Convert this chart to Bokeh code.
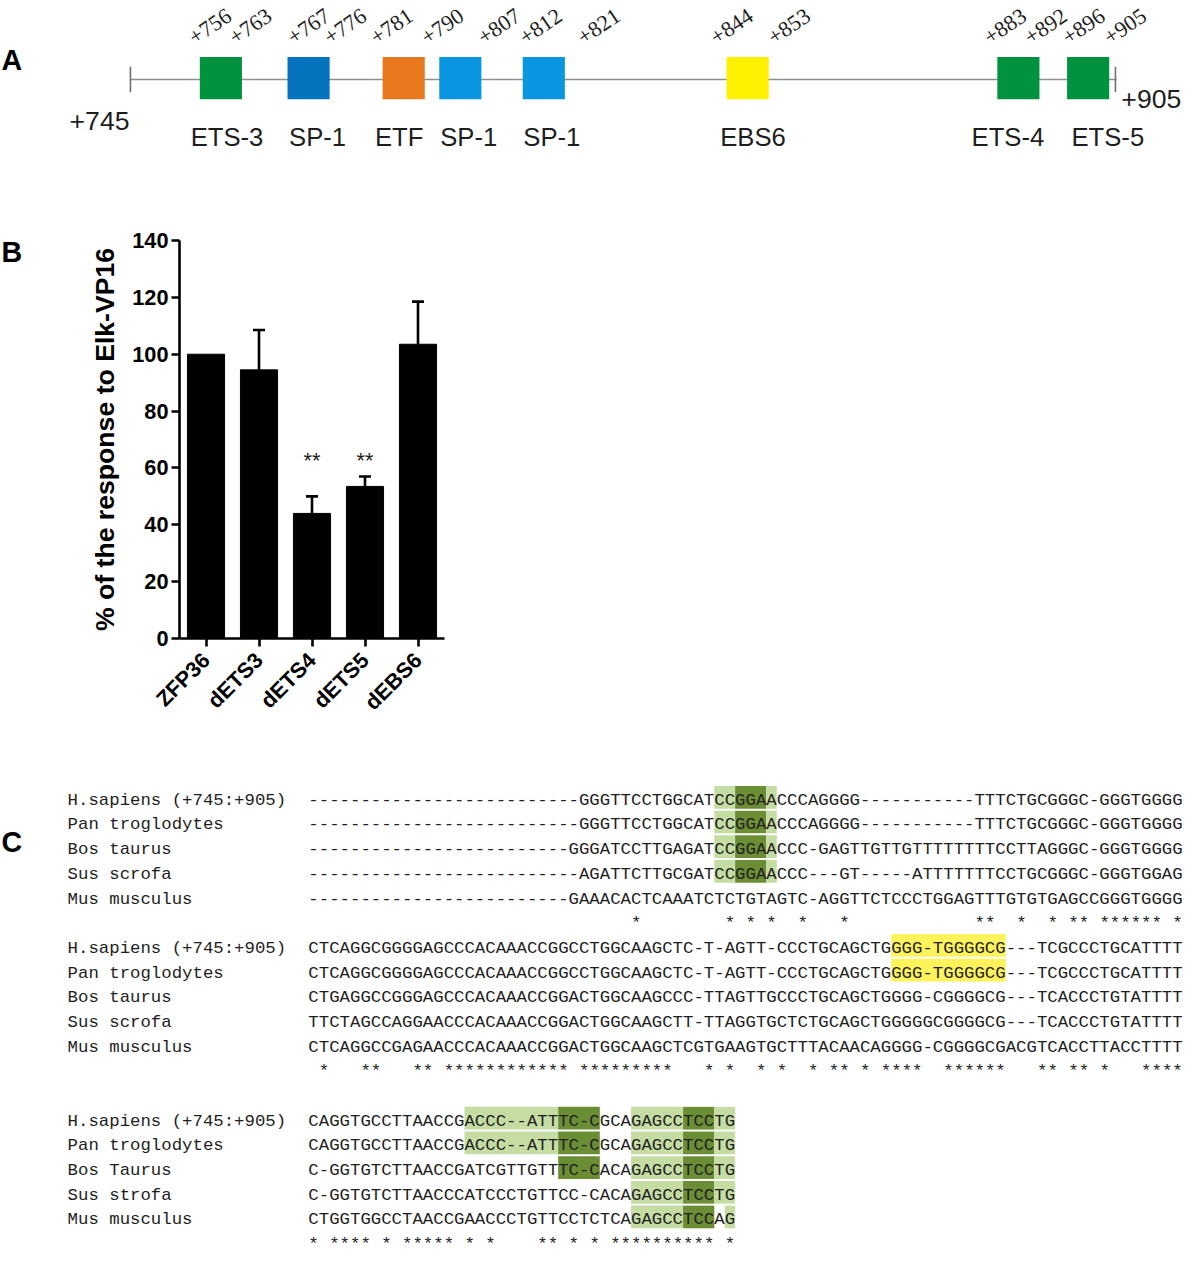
import math
from bokeh.plotting import figure
from bokeh.models import Range1d, FactorRange, ColumnDataSource, FixedTicker, Whisker, TeeHead
from bokeh.layouts import column, row
from bokeh.embed import file_html
from bokeh.resources import INLINE
from bokeh.core.properties import value

# ------------------------------------------------------------------ data
# Panel A : promoter map
site_names = ["ETS-3", "SP-1", "ETF", "SP-1", "SP-1", "EBS6", "ETS-4", "ETS-5"]
site_types = ["ETS", "SP1a", "ETF", "SP1b", "SP1b", "EBS", "ETS", "ETS"]
boundary_labels = ["+756", "+763", "+767", "+776", "+781", "+790", "+807", "+812",
                   "+821", "+844", "+853", "+883", "+892", "+896", "+905"]
region_start = "+745"
region_end = "+905"

# Panel B : reporter activity
constructs = ["ZFP36", "dETS3", "dETS4", "dETS5", "dEBS6"]
response_pct = [100, 94.5, 44, 53.5, 103.5]
response_err = [0, 14, 6, 3.5, 15]
significance = ["", "", "**", "**", ""]
y_ticks = [0, 20, 40, 60, 80, 100, 120, 140]
y_label = "% of the response to Elk-VP16"

# Panel C : alignment
species_a = ["H.sapiens (+745:+905)", "Pan troglodytes", "Bos taurus", "Sus scrofa", "Mus musculus"]
species_b = ["H.sapiens (+745:+905)", "Pan troglodytes", "Bos Taurus", "Sus strofa", "Mus musculus"]
aln_block1 = [
    "-" * 26 + "GGGTTCCTGGCATCCGGAACCCAGGGG" + "-" * 11 + "TTTCTGCGGGC-GGGTGGGG",
    "-" * 26 + "GGGTTCCTGGCATCCGGAACCCAGGGG" + "-" * 11 + "TTTCTGCGGGC-GGGTGGGG",
    "-" * 25 + "GGGATCCTTGAGATCCGGAACCC-GAGTTGTTG" + "TTTTTTTT" + "CCTTAGGGC-GGGTGGGG",
    "-" * 26 + "AGATTCTTGCGATCCGGAACCC---GT-----ATTTTTTTCCTGCGGGC-GGGTGGAG",
    "-" * 25 + "GAAACACTCAAATCTCTGTAGTC-AGGTTCTCCCTGGAGTTTGTGTGAGCCGGGTGGGG",
]
aln_block2 = [
    "CTCAGGCGGGGAGCCCACAAACCGGCCTGGCAAGCTC-T-AGTT-CCCTGCAGCTGGGG-TGGGGCG---TCGCCCTGCATTTT",
    "CTCAGGCGGGGAGCCCACAAACCGGCCTGGCAAGCTC-T-AGTT-CCCTGCAGCTGGGG-TGGGGCG---TCGCCCTGCATTTT",
    "CTGAGGCCGGGAGCCCACAAACCGGACTGGCAAGCCC-TTAGTTGCCCTGCAGCTGGGG-CGGGGCG---TCACCCTGTATTTT",
    "TTCTAGCCAGGAACCCACAAACCGGACTGGCAAGCTT-TTAGGTGCTCTGCAGCTGGGGGCGGGGCG---TCACCCTGTATTTT",
    "CTCAGGCCGAGAACCCACAAACCGGACTGGCAAGCTCGTGAAGTGCTTTACAACAGGGG-CGGGGCGACGTCACCTTACCTTTT",
]
aln_block3 = [
    "CAGGTGCCTTAACCGACCC--ATTTC-CGCAGAGCCTCCTG",
    "CAGGTGCCTTAACCGACCC--ATTTC-CGCAGAGCCTCCTG",
    "C-GGTGTCTTAACCGATCGTTGTTTC-CACAGAGCCTCCTG",
    "C-GGTGTCTTAACCCATCCCTGTTCC-CACAGAGCCTCCTG",
    "CTGGTGGCCTAACCGAACCCTGTTCCTCTCAGAGCCTCCAG",
]
# (block, row, first column, last column, kind)
highlights = [
    (0, 0, 39, 40, "light"), (0, 0, 41, 43, "dark"), (0, 0, 44, 44, "light"),
    (0, 1, 39, 40, "light"), (0, 1, 41, 43, "dark"), (0, 1, 44, 44, "light"),
    (0, 2, 39, 40, "light"), (0, 2, 41, 43, "dark"), (0, 2, 44, 44, "light"),
    (0, 3, 39, 40, "light"), (0, 3, 41, 43, "dark"), (0, 3, 44, 44, "light"),
    (1, 0, 56, 66, "yellow"), (1, 1, 56, 66, "yellow"),
    (2, 0, 15, 23, "light"), (2, 0, 24, 27, "dark"), (2, 0, 31, 35, "light"), (2, 0, 36, 38, "dark"), (2, 0, 39, 40, "light"),
    (2, 1, 15, 23, "light"), (2, 1, 24, 27, "dark"), (2, 1, 31, 35, "light"), (2, 1, 36, 38, "dark"), (2, 1, 39, 40, "light"),
    (2, 2, 24, 27, "dark"), (2, 2, 31, 35, "light"), (2, 2, 36, 38, "dark"), (2, 2, 39, 40, "light"),
    (2, 3, 31, 35, "light"), (2, 3, 36, 38, "dark"), (2, 3, 39, 40, "light"),
    (2, 4, 31, 35, "light"), (2, 4, 36, 38, "dark"), (2, 4, 40, 40, "light"),
]

# ------------------------------------------------------------------ layout / style
# Drawing coordinates are those of a 1200 x 1269 sheet, fitted into 1184 x 1253 px.
W = 1184
H_A, H_B, H_C = 178, 602, 473
SX = W / 1200.0
SY = (H_A + H_B + H_C) / 1269.0
A_TOP = 0.0
B_TOP = H_A / SY
C_TOP = (H_A + H_B) / SY
INK = "#1e1e1e"


def fpx(v):
    return f"{v * SX:.2f}px"


site_color = {"ETS": "#00923F", "SP1a": "#0573BE", "ETF": "#E8781E",
              "SP1b": "#0A96E1", "EBS": "#FFF200"}
hl_color = {"light": "#C5DDA3", "dark": "#6B8E35", "yellow": "#FFF35C"}

box_left = [202.0, 290.9, 387.3, 444.7, 529.3, 735.9, 1010.3, 1081.0]
box_w, box_top, box_bot = 42.7, 57.3, 100.0
name_x = [229.6, 321.4, 404.0, 474.5, 558.8, 762.7, 1021.0, 1122.3]
bound_x = [193, 234, 293, 330, 377, 428.6, 486, 528, 587, 721.7, 779.9, 998.8, 1040, 1078.4, 1120.5]
line_y, line_x0, line_x1 = 80.0, 131.7, 1131.0


def canvas(width_px, height_px, top, left=0.0):
    p = figure(width=width_px, height=height_px,
               x_range=Range1d(left, left + width_px / SX),
               y_range=Range1d(top + height_px / SY, top), x_axis_type=None, y_axis_type=None,
               toolbar_location=None, output_backend="svg", min_border=0,
               outline_line_color=None)
    p.frame_align = False
    return p


# ------------------------------------------------------------------ panel A
pA = canvas(W, H_A, A_TOP)
pA.segment(x0=[line_x0], y0=[line_y], x1=[line_x1], y1=[line_y], line_color="#8f8f8f", line_width=1.6)
pA.segment(x0=[line_x0, 1130.0], y0=[67.0, 67.0], x1=[line_x0, 1130.0], y1=[93.0, 93.0],
           line_color="#6f6f6f", line_width=1.6)
pA.quad(left=box_left, right=[b + box_w for b in box_left], top=[box_top] * len(box_left),
        bottom=[box_bot] * len(box_left), fill_color=[site_color[t] for t in site_types], line_color=None)
pA.text(x=name_x, y=[138.5] * len(name_x), text=site_names, text_align="center",
        text_baseline="alphabetic", text_font=value("Liberation Sans"), text_font_size=fpx(26),
        text_color=INK)
pA.text(x=bound_x, y=[39.0] * len(bound_x), text=boundary_labels, angle=math.radians(34),
        text_align="left", text_baseline="alphabetic", text_font=value("Liberation Serif"),
        text_font_size=fpx(22.5), text_color=INK)
pA.text(x=[70.0], y=[121.7], text=[region_start], text_align="left", text_baseline="alphabetic",
        text_font=value("Liberation Sans"), text_font_size=fpx(27), text_color=INK)
pA.text(x=[1136.0], y=[100.0], text=[region_end], text_align="left", text_baseline="alphabetic",
        text_font=value("Liberation Sans"), text_font_size=fpx(27), text_color=INK)
pA.text(x=[1.0], y=[60.0], text=["A"], text_align="left", text_baseline="alphabetic",
        text_font=value("Liberation Sans"), text_font_style="bold", text_font_size=fpx(29),
        text_color="black")

# ------------------------------------------------------------------ panel B
LW = 30                                     # narrow strip carrying the panel letter
pBL = canvas(LW, H_B, B_TOP)
pBL.text(x=[1.0], y=[255.0], text=["B"], text_align="left", text_baseline="alphabetic",
         text_font=value("Liberation Sans"), text_font_style="bold", text_font_size=fpx(29),
         text_color="black")

# plot frame in sheet coordinates
frame_left, frame_right, frame_top, frame_bottom = 181.7, 450.0, 243.3, 646.7
WB = W - LW
bl = round(frame_left * SX) - LW
bt = round((frame_top - B_TOP) * SY)
fw = round((frame_right - frame_left) * SX)
fh = round((frame_bottom - frame_top) * SY)
pB = figure(width=WB, height=H_B, x_range=FactorRange(factors=constructs),
            y_range=Range1d(0, 140), toolbar_location=None, output_backend="svg",
            min_border_left=bl, min_border_right=WB - bl - fw, min_border_top=bt,
            min_border_bottom=H_B - bt - fh, outline_line_color=None)
pB.frame_align = False
srcB = ColumnDataSource(dict(x=constructs, top=response_pct,
                             sig=significance, sig_y=[62.5] * len(constructs)))
keep = [i for i, e in enumerate(response_err) if e > 0]
srcE = ColumnDataSource(dict(x=[constructs[i] for i in keep],
                             lower=[response_pct[i] for i in keep],
                             upper=[response_pct[i] + response_err[i] for i in keep]))
pB.vbar(x="x", top="top", width=0.7, source=srcB, fill_color="black", line_color="black")
pB.add_layout(Whisker(base="x", upper="upper", lower="lower", source=srcE, dimension="height",
                      line_width=2.6, line_color="black",
                      upper_head=TeeHead(size=12, line_width=2.6, line_color="black"),
                      lower_head=None))
pB.text(x="x", y="sig_y", text="sig", source=srcB, text_align="center", text_baseline="middle",
        text_font=value("Liberation Sans"), text_font_size=fpx(22), text_color=INK)
pB.xgrid.visible = False
pB.ygrid.visible = False
pB.yaxis.ticker = FixedTicker(ticks=y_ticks)
for ax in (pB.xaxis[0], pB.yaxis[0]):
    ax.axis_line_width = 2.6
    ax.axis_line_color = "black"
    ax.major_tick_line_width = 2.6
    ax.major_tick_line_color = "black"
    ax.major_tick_out = 8
    ax.major_tick_in = 0
    ax.minor_tick_line_color = None
    ax.major_label_text_font = "Liberation Sans"
    ax.major_label_text_font_style = "bold"
    ax.major_label_text_font_size = fpx(22)
    ax.major_label_text_color = "black"
pB.yaxis.major_label_standoff = 3
pB.xaxis.major_label_standoff = 10
pB.xaxis.major_label_orientation = math.pi / 4
pB.yaxis.axis_label = y_label
pB.yaxis.axis_label_text_font = "Liberation Sans"
pB.yaxis.axis_label_text_font_style = "bold"
pB.yaxis.axis_label_text_font_size = fpx(27)
pB.yaxis.axis_label_text_color = "black"
pB.yaxis.axis_label_standoff = 9

# ------------------------------------------------------------------ panel C
pC = canvas(W, H_C, C_TOP)
seq_x0, lab_x0, cw = 312.0, 68.0, 10.55
row_gap = 25.0
block_centers = [804.0, 954.0, 1129.0]
blocks = [aln_block1, aln_block2, aln_block3]
block_species = [species_a, species_a, species_b]
mono = value("Liberation Mono")
mono_size = fpx(cw / 0.6)

hl_l, hl_r, hl_t, hl_b, hl_c = [], [], [], [], []
for (b, r, c0, c1, kind) in highlights:
    cy = block_centers[b] + r * row_gap
    hl_l.append(seq_x0 + c0 * cw)
    hl_r.append(seq_x0 + (c1 + 1) * cw)
    hl_t.append(cy - 8.5)
    hl_b.append(cy + 14.5)
    hl_c.append(hl_color[kind])
pC.quad(left=hl_l, right=hl_r, top=hl_t, bottom=hl_b, fill_color=hl_c, line_color=None)

for b, rows in enumerate(blocks):
    base = [block_centers[b] + r * row_gap + 6.0 for r in range(len(rows))]
    pC.text(x=[seq_x0] * len(rows), y=base, text=rows, text_align="left",
            text_baseline="alphabetic", text_font=mono, text_font_size=mono_size, text_color=INK)
    pC.text(x=[lab_x0] * len(rows), y=base, text=block_species[b], text_align="left",
            text_baseline="alphabetic", text_font=mono, text_font_size=mono_size, text_color=INK)
    star_cols = [c for c in range(len(rows[0]))
                 if rows[0][c] != "-" and all(r_[c] == rows[0][c] for r_ in rows)]
    sy = block_centers[b] + len(rows) * row_gap + 6.0
    pC.text(x=[seq_x0 + (c + 0.5) * cw for c in star_cols], y=[sy] * len(star_cols),
            text=["*"] * len(star_cols), text_align="center", text_baseline="alphabetic",
            text_font=mono, text_font_size=mono_size, text_color=INK)

pC.text(x=[1.0], y=[852.0], text=["C"], text_align="left", text_baseline="alphabetic",
        text_font=value("Liberation Sans"), text_font_style="bold", text_font_size=fpx(29),
        text_color="black")

layout = column(pA, row(pBL, pB, spacing=0), pC, spacing=0)
open("out.html", "w").write(file_html(layout, INLINE))
